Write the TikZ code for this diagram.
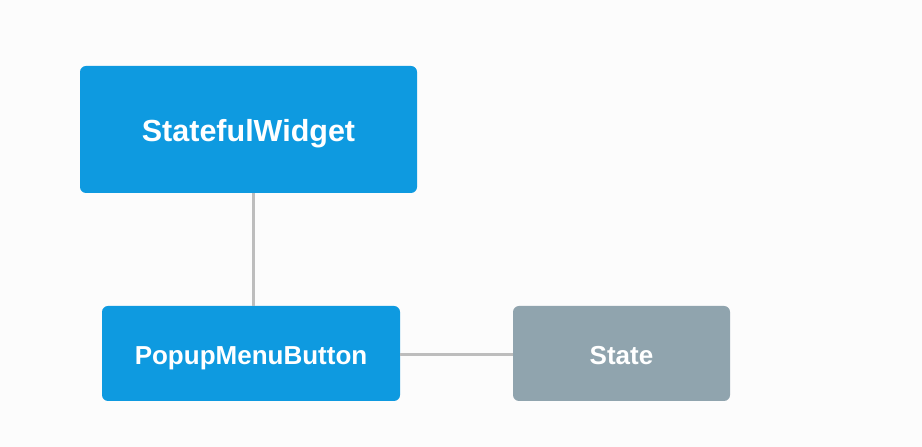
\documentclass[tikz,border=0pt]{standalone}
\usepackage{fontspec}
\setmainfont{Liberation Sans}
\definecolor{bg}{HTML}{FCFCFC}
\definecolor{boxblue}{HTML}{0E9AE0}
\definecolor{boxgray}{HTML}{90A4AE}
\definecolor{linegray}{HTML}{BDBDBD}
\begin{document}
\begin{tikzpicture}[x=1pt,y=1pt,
  box/.style={rounded corners=6pt, inner sep=0pt, text=white, text depth=0pt},
  bluebox/.style={box, fill=boxblue},
  graybox/.style={box, fill=boxgray},
  bigtext/.style={font=\bfseries\fontsize{30.5}{36}\selectfont, text height=25pt},
  smalltext/.style={font=\bfseries\fontsize{26}{31}\selectfont, text height=21.6pt},
  link/.style={draw=linegray, line width=3pt}]
\fill[bg] (0,0) rectangle (922,447);
\useasboundingbox (0,0) rectangle (922,447);
\node[bluebox, bigtext, minimum width=337pt, minimum height=127pt] (sw) at (248.5,317.5) {StatefulWidget};
\node[bluebox, smalltext, minimum width=298pt, minimum height=95pt] (pm) at (251,93.5) {PopupMenuButton};
\node[graybox, smalltext, minimum width=217pt, minimum height=95pt] (st) at (621.5,93.5) {State};
\draw[link] ([xshift=2pt]pm.north) -- ([xshift=2pt]pm.north |- sw.south);
\draw[link] ([yshift=-1.5pt]pm.east) -- ([yshift=-1.5pt]st.west);
\end{tikzpicture}
\end{document}
